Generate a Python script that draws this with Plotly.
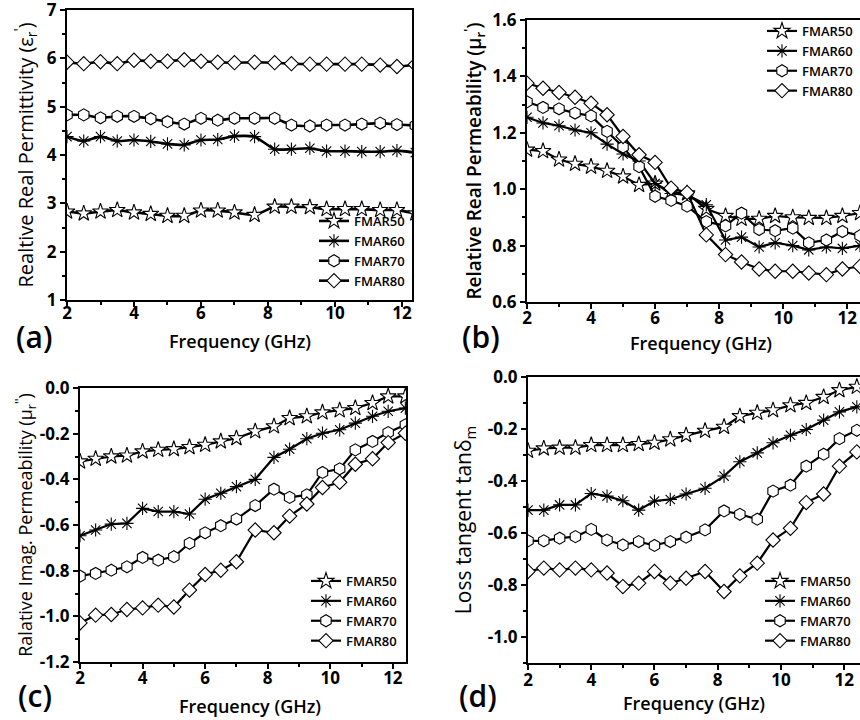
import plotly.graph_objects as go

FREQ = [2.0, 2.5, 3.0, 3.5, 4.0, 4.5, 5.0, 5.5, 6.0, 6.5, 7.0, 7.6, 8.2, 8.7, 9.25, 9.75, 10.3, 10.8, 11.35, 11.85, 12.4]
NAMES = ["FMAR50", "FMAR60", "FMAR70", "FMAR80"]

# (a) relative real permittivity
A_50 = [2.83, 2.79, 2.83, 2.86, 2.81, 2.78, 2.74, 2.74, 2.85, 2.85, 2.81, 2.76, 2.93, 2.93, 2.92, 2.88, 2.88, 2.88, 2.86, 2.86, 2.79]
A_60 = [4.38, 4.29, 4.38, 4.29, 4.31, 4.28, 4.23, 4.21, 4.31, 4.32, 4.39, 4.38, 4.12, 4.12, 4.14, 4.08, 4.08, 4.07, 4.07, 4.09, 4.05]
A_70 = [4.83, 4.83, 4.77, 4.80, 4.80, 4.75, 4.69, 4.64, 4.76, 4.72, 4.76, 4.76, 4.76, 4.62, 4.60, 4.62, 4.62, 4.64, 4.66, 4.63, 4.61]
A_80 = [5.92, 5.89, 5.93, 5.89, 5.96, 5.94, 5.94, 5.97, 5.94, 5.92, 5.91, 5.92, 5.91, 5.89, 5.88, 5.88, 5.88, 5.88, 5.86, 5.83, 5.87]

# (b) relative real permeability
B_50 = [1.14, 1.135, 1.105, 1.09, 1.08, 1.065, 1.045, 1.015, 1.02, 0.99, 0.985, 0.93, 0.905, 0.895, 0.895, 0.905, 0.90, 0.898, 0.898, 0.905, 0.915]
B_60 = [1.255, 1.235, 1.225, 1.21, 1.20, 1.16, 1.125, 1.10, 1.02, 0.985, 0.98, 0.945, 0.82, 0.83, 0.795, 0.81, 0.80, 0.785, 0.795, 0.79, 0.80]
B_70 = [1.31, 1.29, 1.285, 1.27, 1.26, 1.205, 1.15, 1.08, 0.975, 0.96, 0.94, 0.885, 0.87, 0.915, 0.857, 0.853, 0.862, 0.81, 0.82, 0.85, 0.835]
B_80 = [1.376, 1.358, 1.343, 1.326, 1.305, 1.264, 1.187, 1.122, 1.095, 1.004, 0.988, 0.838, 0.768, 0.742, 0.717, 0.709, 0.709, 0.703, 0.697, 0.717, 0.726]

# (c) relative imaginary permeability
C_50 = [-0.322, -0.31, -0.30, -0.296, -0.278, -0.271, -0.268, -0.259, -0.249, -0.234, -0.22, -0.19, -0.168, -0.132, -0.124, -0.107, -0.098, -0.088, -0.066, -0.037, -0.037]
C_60 = [-0.647, -0.622, -0.596, -0.593, -0.527, -0.541, -0.541, -0.552, -0.487, -0.461, -0.432, -0.40, -0.304, -0.268, -0.222, -0.198, -0.183, -0.154, -0.124, -0.102, -0.088]
C_70 = [-0.824, -0.812, -0.798, -0.783, -0.742, -0.754, -0.739, -0.68, -0.634, -0.603, -0.574, -0.515, -0.443, -0.479, -0.468, -0.37, -0.354, -0.271, -0.234, -0.195, -0.161]
C_80 = [-1.029, -0.995, -0.992, -0.97, -0.963, -0.951, -0.959, -0.885, -0.817, -0.798, -0.761, -0.622, -0.634, -0.561, -0.508, -0.436, -0.413, -0.334, -0.31, -0.239, -0.198]

# (d) magnetic loss tangent
D_50 = [-0.284, -0.275, -0.272, -0.272, -0.262, -0.262, -0.262, -0.258, -0.253, -0.24, -0.224, -0.207, -0.192, -0.151, -0.138, -0.128, -0.109, -0.10, -0.077, -0.051, -0.038]
D_60 = [-0.512, -0.512, -0.492, -0.492, -0.448, -0.458, -0.476, -0.512, -0.477, -0.471, -0.45, -0.428, -0.381, -0.326, -0.292, -0.253, -0.224, -0.202, -0.166, -0.134, -0.115]
D_70 = [-0.63, -0.63, -0.62, -0.614, -0.586, -0.627, -0.646, -0.633, -0.648, -0.633, -0.616, -0.588, -0.515, -0.528, -0.547, -0.439, -0.416, -0.343, -0.297, -0.237, -0.205]
D_80 = [-0.748, -0.735, -0.742, -0.735, -0.742, -0.754, -0.806, -0.793, -0.748, -0.793, -0.774, -0.748, -0.825, -0.765, -0.716, -0.627, -0.582, -0.483, -0.45, -0.343, -0.288]

X_TICKS = [2, 4, 6, 8, 10, 12]
X_TITLE = "Frequency (GHz)"
A_TICKS = [1, 2, 3, 4, 5, 6, 7]
B_TICKS = [0.6, 0.8, 1.0, 1.2, 1.4, 1.6]
B_TICKTEXT = ["0.6", "0.8", "1.0", "1.2", "1.4", "1.6"]
C_TICKS = [0.0, -0.2, -0.4, -0.6, -0.8, -1.0, -1.2]
C_TICKTEXT = ["0.0", "-0.2", "-0.4", "-0.6", "-0.8", "-1.0", "-1.2"]
D_TICKS = [0.0, -0.2, -0.4, -0.6, -0.8, -1.0]
D_TICKTEXT = ["0.0", "-0.2", "-0.4", "-0.6", "-0.8", "-1.0"]

FONT = "Open Sans"
SYMBOLS = ["star", "asterisk-open", "hexagon", "diamond"]
SIZES = [12, 11, 12, 11]

fig = go.Figure()

panels = [
    ("x", "y", "legend", [A_50, A_60, A_70, A_80], 2.6, "spline"),
    ("x2", "y2", "legend2", [B_50, B_60, B_70, B_80], 2.2, "linear"),
    ("x3", "y3", "legend3", [C_50, C_60, C_70, C_80], 2.2, "linear"),
    ("x4", "y4", "legend4", [D_50, D_60, D_70, D_80], 2.2, "linear"),
]

for xa, ya, lg, series, lw, shape in panels:
    for name, vals, sym, sz in zip(NAMES, series, SYMBOLS, SIZES):
        fig.add_trace(go.Scatter(
            x=FREQ, y=vals, name=name, xaxis=xa, yaxis=ya, legend=lg,
            mode="lines+markers",
            line=dict(color="black", width=lw, shape=shape, smoothing=0.6),
            marker=dict(symbol=sym, size=sz, color="white" if "open" not in sym else "black",
                        line=dict(color="black", width=1.1)),
        ))

tickfont = dict(family=FONT, size=17, color="black", weight="bold")


def xaxis(domain, anchor, rng, lab_standoff):
    return dict(domain=domain, anchor=anchor, range=rng, tickvals=X_TICKS, automargin=False,
                ticklabeloverflow="allow", ticklabelstandoff=lab_standoff,
                ticks="outside", ticklen=5, tickwidth=2, tickcolor="black",
                minor=dict(dtick=1, tick0=0, ticks="outside", ticklen=3, tickwidth=1.5, tickcolor="black"),
                showline=True, linecolor="black", linewidth=2, mirror=True,
                showgrid=False, zeroline=False, tickfont=tickfont)


def yaxis(domain, anchor, rng, tv, tt, title, mirror, tsize=17, tweight="normal", minor=None, standoff=6):
    d = dict(domain=domain, anchor=anchor, range=rng, tickvals=tv, ticktext=tt, automargin=False,
             ticklabeloverflow="allow",
             ticks="outside", ticklen=5, tickwidth=2, tickcolor="black",
             showline=True, linecolor="black", linewidth=2, mirror=mirror,
             showgrid=False, zeroline=False, tickfont=tickfont,
             title=dict(text=title, font=dict(family=FONT, size=tsize, color="black", weight=tweight),
                        standoff=standoff))
    if minor is not None:
        d["minor"] = dict(dtick=minor, ticks="outside", ticklen=3, tickwidth=1.5, tickcolor="black")
    return d


legend_common = dict(bgcolor="rgba(0,0,0,0)", font=dict(family=FONT, size=13, color="black", weight=600),
                     tracegroupgap=0, itemwidth=30, xanchor="right", yanchor="bottom", traceorder="normal")

fig.update_layout(
    width=860, height=720,
    margin=dict(l=0, r=0, t=0, b=0, autoexpand=False),
    paper_bgcolor="white", plot_bgcolor="white",
    xaxis=xaxis([67 / 860, 412 / 860], "y", [2, 12.3], -8),
    yaxis=yaxis([1 - 300 / 720, 1 - 10 / 720], "x", [1, 7], A_TICKS, [str(v) for v in A_TICKS],
                "Realtive Real Permittivity (ε<sub>r</sub><sup>'</sup>)", True, tsize=20, minor=0.5, standoff=8),
    xaxis2=xaxis([527 / 860, 1.0], "y2", [2, 12.4], -5),
    yaxis2=yaxis([1 - 302 / 720, 1 - 20 / 720], "x2", [0.6, 1.6], B_TICKS, B_TICKTEXT,
                 "Relative Real Permeability (μ<sub>r</sub><sup>'</sup>)", False, tsize=19, tweight=600, minor=0.1),
    xaxis3=xaxis([80 / 860, 406 / 860], "y3", [2, 12.42], -5),
    yaxis3=yaxis([1 - 662 / 720, 1 - 388 / 720], "x3", [-1.2, 0], C_TICKS, C_TICKTEXT,
                 "Ralative Imag. Permeability (μ<sub>r</sub><sup>''</sup>)", True, tsize=18, minor=0.1, standoff=0),
    xaxis4=xaxis([528 / 860, 1.0], "y4", [2, 12.5], -4),
    yaxis4=yaxis([1 - 663 / 720, 1 - 377 / 720], "x4", [-1.1, 0], D_TICKS, D_TICKTEXT,
                 "Loss tangent tanδ<sub>m</sub>", False, tsize=21, minor=0.1, standoff=10),
    legend=dict(x=410 / 860, y=1 - 296 / 720, **legend_common),
    legend2=dict(x=858 / 860, y=1 - 106 / 720, **legend_common),
    legend3=dict(x=402 / 860, y=1 - 656 / 720, **legend_common),
    legend4=dict(x=856 / 860, y=1 - 656 / 720, **legend_common),
    showlegend=True,
)

# x-axis titles
for px, py in [(240, 341), (701, 343), (250, 706), (694, 703)]:
    fig.add_annotation(text=X_TITLE, x=px / 860, y=1 - py / 720, xref="paper", yref="paper",
                       xanchor="center", yanchor="middle", showarrow=False,
                       font=dict(family=FONT, size=18, color="black", weight=600))

# panel letters
for txt, px, py in [("(a)", 14, 336), ("(b)", 460, 336), ("(c)", 16, 695), ("(d)", 457, 695)]:
    fig.add_annotation(text=txt, x=px / 860, y=1 - py / 720, xref="paper", yref="paper",
                       xanchor="left", yanchor="middle", showarrow=False,
                       font=dict(family=FONT, size=30, color="black", weight=600))

fig.write_html("out.html")
